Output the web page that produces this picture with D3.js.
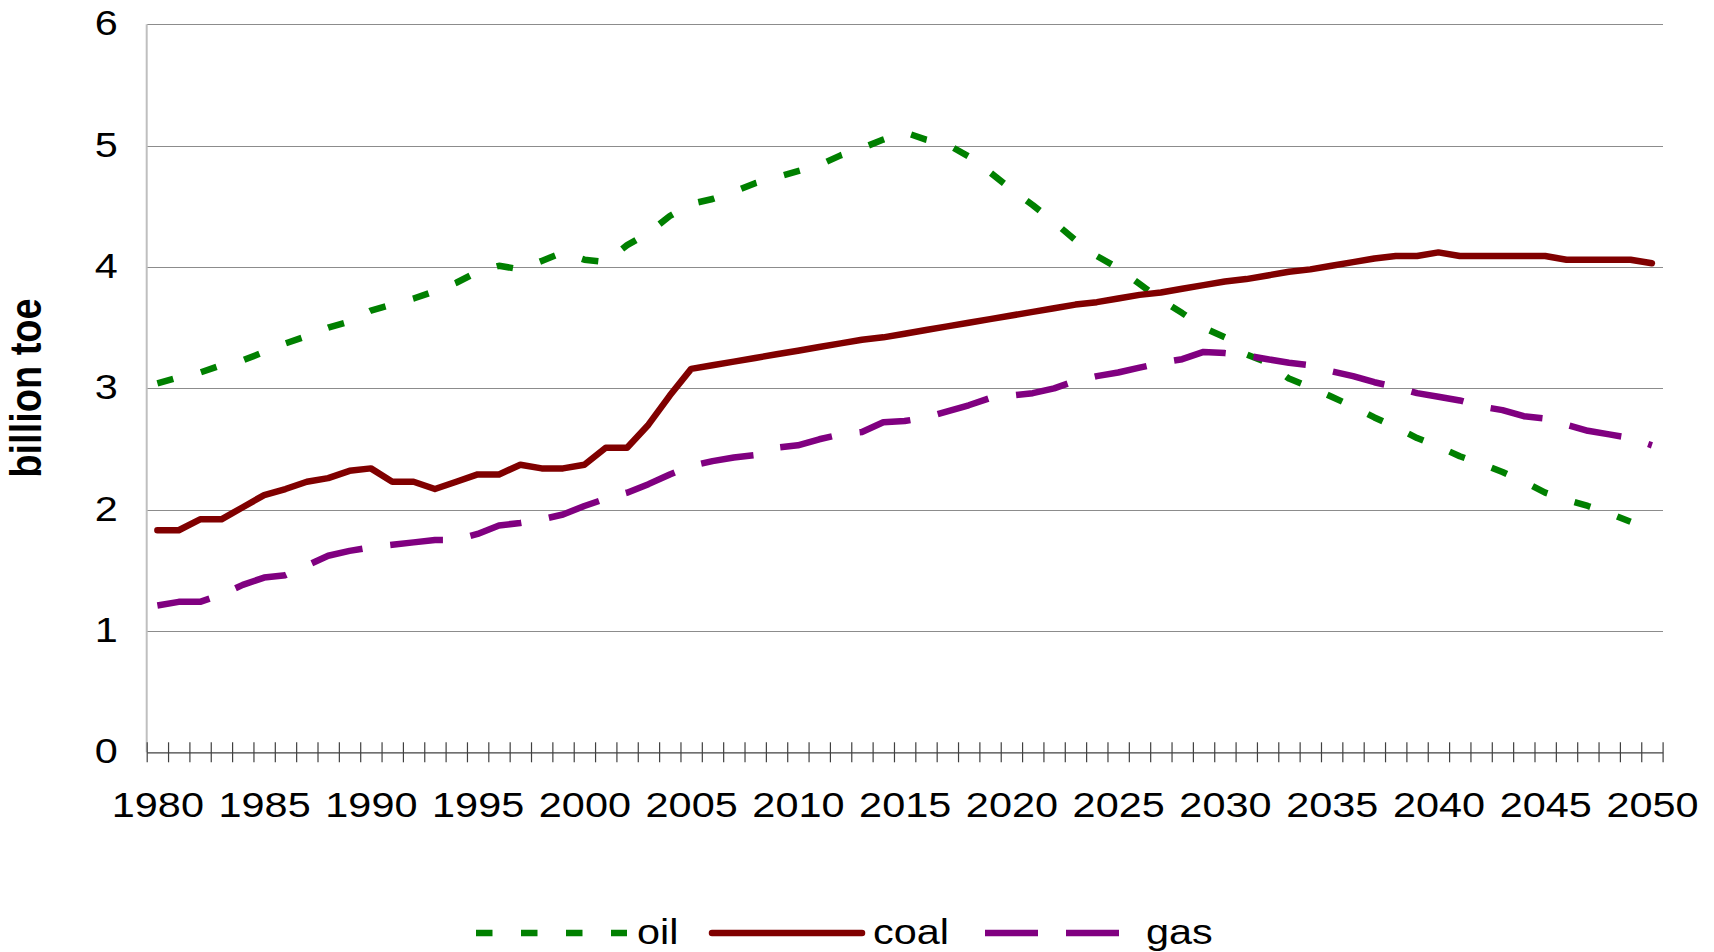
<!DOCTYPE html>
<html>
<head>
<meta charset="utf-8">
<script src="https://cdn.jsdelivr.net/npm/d3@7"></script>
<style>
  body { margin: 0; background: #fff; }
  svg { display: block; }
  text { font-family: "Liberation Sans", Arial, sans-serif; }
</style>
</head>
<body>
<svg id="chart" width="1714" height="952"></svg>
<script>
// ---------------- data ----------------
const years = [1980,1981,1982,1983,1984,1985,1986,1987,1988,1989,
  1990,1991,1992,1993,1994,1995,1996,1997,1998,1999,
  2000,2001,2002,2003,2004,2005,2006,2007,2008,2009,
  2010,2011,2012,2013,2014,2015,2016,2017,2018,2019,
  2020,2021,2022,2023,2024,2025,2026,2027,2028,2029,
  2030,2031,2032,2033,2034,2035,2036,2037,2038,2039,
  2040,2041,2042,2043,2044,2045,2046,2047,2048,2049,2050];

const oil = [3.04,3.09,3.13,3.19,3.23,3.30,3.37,3.43,3.50,3.55,
  3.64,3.69,3.74,3.80,3.87,3.96,4.01,3.98,4.05,4.12,
  4.06,4.04,4.18,4.28,4.42,4.52,4.56,4.62,4.69,4.74,
  4.79,4.84,4.92,4.98,5.05,5.11,5.05,5.01,4.91,4.78,
  4.64,4.51,4.37,4.22,4.09,3.99,3.86,3.73,3.62,3.50,
  3.42,3.28,3.21,3.08,3.01,2.93,2.85,2.76,2.68,2.59,
  2.52,2.44,2.38,2.31,2.23,2.14,2.08,2.03,1.97,1.90,null];

const coal = [1.83,1.83,1.92,1.92,2.02,2.12,2.17,2.23,2.26,2.32,
  2.34,2.23,2.23,2.17,2.23,2.29,2.29,2.37,2.34,2.34,
  2.37,2.51,2.51,2.70,2.94,3.16,3.19,3.22,3.25,3.28,
  3.31,3.34,3.37,3.40,3.42,3.45,3.48,3.51,3.54,3.57,
  3.60,3.63,3.66,3.69,3.71,3.74,3.77,3.79,3.82,3.85,
  3.88,3.90,3.93,3.96,3.98,4.01,4.04,4.07,4.09,4.09,
  4.12,4.09,4.09,4.09,4.09,4.09,4.06,4.06,4.06,4.06,4.03];

const gas = [1.21,1.24,1.24,1.30,1.38,1.44,1.46,1.54,1.62,1.66,
  1.69,1.71,1.73,1.75,1.75,1.80,1.87,1.89,1.92,1.96,
  2.03,2.09,2.14,2.21,2.29,2.36,2.40,2.43,2.45,2.51,
  2.53,2.58,2.62,2.64,2.72,2.73,2.76,2.81,2.86,2.92,
  2.94,2.96,3.00,3.06,3.10,3.13,3.17,3.21,3.24,3.30,
  3.29,3.27,3.24,3.21,3.19,3.14,3.10,3.05,3.01,2.96,
  2.93,2.90,2.85,2.82,2.77,2.75,2.70,2.65,2.62,2.59,2.53];

const seriesNames = ["oil", "coal", "gas"];
const yTickValues = [0, 1, 2, 3, 4, 5, 6];
const xTickLabels = [1980,1985,1990,1995,2000,2005,2010,2015,2020,2025,2030,2035,2040,2045,2050];
const yTitle = "billion toe";

// ---------------- styles ----------------
const styles = {
  oil:  { color: "#008000", dash: "16.5,28.5", cap: "butt" },
  coal: { color: "#800000", dash: null,        cap: "round" },
  gas:  { color: "#800080", dash: "53,28",     cap: "butt" }
};
const SX = 1.15;          // horizontal stretch of the glyphs in the reference
const FS = 36;            // font size

// ---------------- layout ----------------
const svg = d3.select("#chart");
const pLeft = 146.7, pRight = 1662.6, pTop = 24.3, pBottom = 752.3;
const plotW = pRight - pLeft;

const x = d3.scaleBand().domain(years).range([pLeft, pRight]).padding(0);
const xc = d => x(d) + x.bandwidth() / 2;
const xEdge = d3.scaleLinear().domain([years[0] - 0.5, years[years.length - 1] + 0.5]).range([pLeft, pRight]);
const y = d3.scaleLinear().domain([0, 6]).range([pBottom, pTop]);

// gridlines + y labels
const gy = svg.append("g").attr("transform", `translate(${pLeft},0)`)
  .call(d3.axisLeft(y).tickValues(yTickValues).tickSize(-plotW).tickFormat(d3.format("d")));
gy.attr("font-size", null).attr("font-family", null);
gy.select(".domain").remove();
gy.selectAll(".tick line")
  .attr("stroke", d => d === 0 ? "none" : "#8c8c8c")
  .attr("stroke-width", 1)
  .attr("shape-rendering", "crispEdges");
gy.selectAll(".tick text")
  .attr("x", 0).attr("y", 0).attr("dy", 0)
  .attr("transform", `translate(-29,10.5) scale(${SX},1)`)
  .attr("font-size", FS).attr("fill", "#000").attr("text-anchor", "end");

// left axis line
svg.append("line")
  .attr("x1", pLeft).attr("x2", pLeft).attr("y1", pTop).attr("y2", pBottom)
  .attr("stroke", "#bfbfbf").attr("stroke-width", 2);

// x axis with ticks at category boundaries
const edgeTicks = years.map(v => v - 0.5).concat([years[years.length - 1] + 0.5]);
const gx = svg.append("g").attr("transform", `translate(0,${pBottom})`)
  .call(d3.axisBottom(xEdge).tickValues(edgeTicks).tickSizeOuter(0).tickFormat(""));
gx.attr("font-size", null).attr("font-family", null);
gx.select(".domain").attr("stroke", "#404040").attr("stroke-width", 1.3);
gx.selectAll(".tick line").attr("y1", -10).attr("y2", 10)
  .attr("stroke", "#404040").attr("stroke-width", 1.2);

// x labels at category centres
const gxl = svg.append("g").attr("transform", `translate(0,${pBottom})`)
  .call(d3.axisBottom(xEdge).tickValues(xTickLabels).tickSize(0).tickFormat(d3.format("d")));
gxl.attr("font-size", null).attr("font-family", null);
gxl.select(".domain").remove();
gxl.selectAll(".tick text")
  .attr("y", 0).attr("dy", 0)
  .attr("transform", `translate(0,65) scale(${SX},1)`)
  .attr("font-size", FS).attr("fill", "#000");

// y title
svg.append("text")
  .attr("transform", `translate(41,388) rotate(-90) scale(1,${SX})`)
  .attr("text-anchor", "middle")
  .attr("font-size", 38).attr("font-weight", "bold").attr("fill", "#000")
  .text(yTitle);

// lines
const seriesData = { oil: oil, coal: coal, gas: gas };
const line = d3.line()
  .defined(d => d[1] != null)
  .x(d => xc(d[0]))
  .y(d => y(d[1]));

seriesNames.forEach(name => {
  const st = styles[name];
  svg.append("path")
    .datum(years.map((yr, i) => [yr, seriesData[name][i]]))
    .attr("fill", "none")
    .attr("stroke", st.color)
    .attr("stroke-width", 6.5)
    .attr("stroke-linejoin", "round")
    .attr("stroke-linecap", st.cap)
    .attr("stroke-dasharray", st.dash)
    .attr("d", line);
});

// legend
const legendY = 933;
const legendItems = [
  { name: "oil",  x1: 476, x2: 627,  tx: 637 },
  { name: "coal", x1: 712, x2: 862,  tx: 873 },
  { name: "gas",  x1: 985, x2: 1120, tx: 1146 }
];
const lg = svg.append("g");
legendItems.forEach(it => {
  const st = styles[it.name];
  lg.append("line")
    .attr("x1", it.x1).attr("x2", it.x2).attr("y1", legendY).attr("y2", legendY)
    .attr("stroke", st.color).attr("stroke-width", 6.5)
    .attr("stroke-linecap", st.cap)
    .attr("stroke-dasharray", st.dash);
  lg.append("text")
    .attr("transform", `translate(${it.tx},944) scale(${SX},1)`)
    .attr("font-size", FS).attr("fill", "#000")
    .text(it.name);
});
</script>
</body>
</html>
